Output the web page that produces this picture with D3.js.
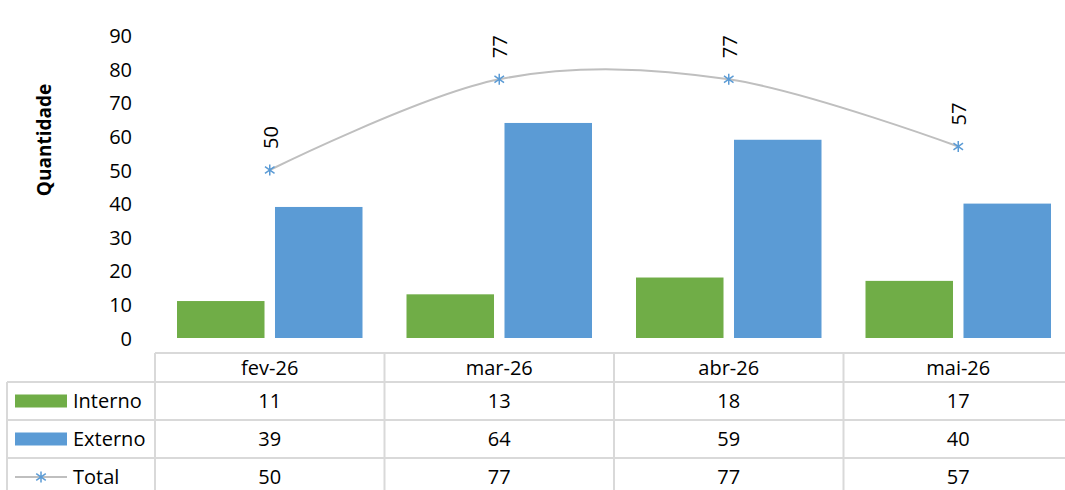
<!DOCTYPE html>
<html>
<head>
<meta charset="utf-8">
<script src="https://cdn.jsdelivr.net/npm/d3@7"></script>
<style>
  html, body { margin: 0; padding: 0; background: #fff; }
  svg text { font-family: "Open Sans", "Noto Sans", sans-serif; }
</style>
</head>
<body>
<svg id="chart" width="1065" height="490"></svg>
<script>
const categories = ["fev-26", "mar-26", "abr-26", "mai-26"];
const interno = [11, 13, 18, 17];
const externo = [39, 64, 59, 40];
const total = [50, 77, 77, 57];
const yTicks = [0, 10, 20, 30, 40, 50, 60, 70, 80, 90];
const seriesNames = ["Interno", "Externo", "Total"];
const colors = { Interno: "#70ad47", Externo: "#5b9bd5", Total: "#5b9bd5", line: "#bfbfbf", grid: "#d9d9d9" };

const svg = d3.select("#chart");
const plotLeft = 155, plotRight = 1073, y0 = 338;

const x = d3.scaleBand().domain(categories).range([plotLeft, plotRight]).padding(0);
const x1 = d3.scaleBand().domain(["Interno", "Externo"]).range([22, x.bandwidth() - 22]).paddingInner(0.107).paddingOuter(0);
const y = d3.scaleLinear().domain([0, 90]).range([y0, 35.6]);

// Y axis
const yAxis = d3.axisLeft(y).tickValues(yTicks).tickSize(0).tickPadding(0);
const gy = svg.append("g").attr("transform", "translate(132,0)").call(yAxis);
gy.select(".domain").remove();
gy.selectAll("text").attr("font-size", 20).attr("fill", "#000").style("font-family", '"Open Sans", sans-serif').attr("dy", "0.35em");

svg.append("text")
  .attr("transform", "translate(44,140) rotate(-90)")
  .attr("text-anchor", "middle").attr("dy", "0.35em")
  .attr("font-size", 19).attr("font-weight", "bold").attr("fill", "#000")
  .text("Quantidade");

// Bars
const barData = [];
categories.forEach((c, i) => {
  barData.push({ cat: c, s: "Interno", v: interno[i] });
  barData.push({ cat: c, s: "Externo", v: externo[i] });
});
svg.append("g").selectAll("rect").data(barData).join("rect")
  .attr("x", d => x(d.cat) + x1(d.s))
  .attr("width", x1.bandwidth())
  .attr("y", d => y(d.v))
  .attr("height", d => y0 - y(d.v))
  .attr("fill", d => colors[d.s]);

// Line
const pts = categories.map((c, i) => [x(c) + x.bandwidth() / 2, y(total[i])]);
svg.append("path")
  .attr("d", d3.line().curve(d3.curveCardinal.tension(0))(pts))
  .attr("fill", "none").attr("stroke", colors.line).attr("stroke-width", 2);

function star(g, cx, cy, r) {
  const p = `M${cx},${cy - r}L${cx},${cy + r}M${cx - r * 0.87},${cy - r * 0.6}L${cx + r * 0.87},${cy + r * 0.6}M${cx - r * 0.87},${cy + r * 0.6}L${cx + r * 0.87},${cy - r * 0.6}`;
  g.append("path").attr("d", p).attr("stroke", colors.Total).attr("stroke-width", 1.5).attr("fill", "none");
}
const mg = svg.append("g");
pts.forEach(p => star(mg, p[0], p[1], 5.5));

// Data labels
svg.append("g").selectAll("text").data(categories).join("text")
  .attr("transform", (c, i) => `translate(${x(c) + x.bandwidth() / 2 + 1},${y(total[i]) - 21}) rotate(-90)`)
  .attr("text-anchor", "start").attr("dy", "0.35em")
  .attr("font-size", 20).attr("fill", "#000")
  .text((c, i) => total[i]);

// Data table
const tg = svg.append("g");
const rowsY = [353, 382, 420, 458, 496];
const lineAttr = s => s.attr("stroke", colors.grid).attr("stroke-width", 2);
tg.append("line").attr("x1", plotLeft).attr("x2", plotRight).attr("y1", rowsY[0]).attr("y2", rowsY[0]).call(lineAttr);
[1, 2, 3].forEach(r => tg.append("line").attr("x1", 7).attr("x2", plotRight).attr("y1", rowsY[r]).attr("y2", rowsY[r]).call(lineAttr));
tg.append("line").attr("x1", 7).attr("x2", 7).attr("y1", rowsY[1]).attr("y2", 490).call(lineAttr);
categories.concat(["_end"]).forEach((c, i) => {
  const xx = plotLeft + i * x.step();
  tg.append("line").attr("x1", xx).attr("x2", xx).attr("y1", rowsY[0]).attr("y2", 490).call(lineAttr);
});

// header
tg.selectAll("text.hdr").data(categories).join("text").attr("class", "hdr")
  .attr("x", c => x(c) + x.bandwidth() / 2).attr("y", (rowsY[0] + rowsY[1]) / 2)
  .attr("text-anchor", "middle").attr("dy", "0.35em").attr("font-size", 20).attr("fill", "#000")
  .text(c => c);

const tableRows = [interno, externo, total];
tableRows.forEach((vals, r) => {
  const cy = (rowsY[r + 1] + rowsY[r + 2]) / 2;
  categories.forEach((c, i) => {
    tg.append("text").attr("x", x(c) + x.bandwidth() / 2).attr("y", cy)
      .attr("text-anchor", "middle").attr("dy", "0.35em").attr("font-size", 20).attr("fill", "#000")
      .text(vals[i]);
  });
  tg.append("text").attr("x", 73).attr("y", cy).attr("dy", "0.35em").attr("font-size", 20).attr("fill", "#000")
    .text(seriesNames[r]);
  if (r < 2) {
    tg.append("rect").attr("x", 15).attr("y", cy - 6.5).attr("width", 52).attr("height", 13).attr("fill", colors[seriesNames[r]]);
  } else {
    tg.append("line").attr("x1", 15).attr("x2", 67).attr("y1", cy).attr("y2", cy).attr("stroke", colors.line).attr("stroke-width", 2);
    star(tg, 41, cy, 5.5);
  }
});
</script>
</body>
</html>
